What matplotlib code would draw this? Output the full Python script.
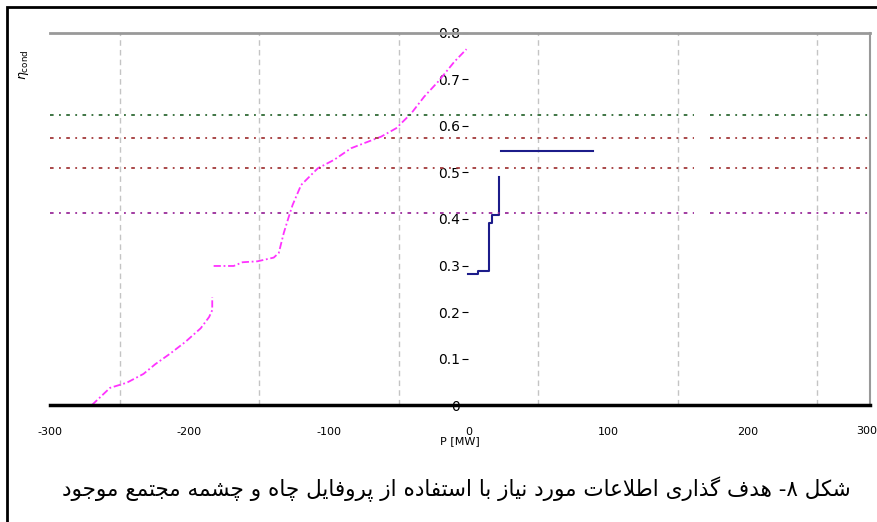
import numpy as np
import matplotlib.pyplot as plt
from matplotlib.patches import Rectangle

# composite curve (magenta), two pieces
hot_x1 = [-270, -257, -245, -233, -224.5, -213.7, -202.9, -192, -186, -183.7, -183.7]
hot_y1 = [0.0, 0.037, 0.048, 0.067, 0.088, 0.111, 0.136, 0.165, 0.189, 0.204, 0.232]
hot_x2 = [-182.7, -168.3, -162, -151.3, -139.6, -136, -132.4, -128.8, -126.1, -120,
          -108, -96.4, -84.2, -62.6, -51.8, -41, -31.7, -21.8, -10.1, -1.4]
hot_y2 = [0.299, 0.299, 0.307, 0.309, 0.317, 0.327, 0.370, 0.405, 0.430, 0.473,
          0.509, 0.527, 0.552, 0.577, 0.595, 0.627, 0.663, 0.695, 0.738, 0.765]

# step curve (navy)
cold_x1 = [0, 6.5, 6.5, 15, 15, 17, 17, 22, 22]
cold_y1 = [0.282, 0.282, 0.289, 0.289, 0.391, 0.391, 0.409, 0.409, 0.491]
cold_x2 = [23, 89]
cold_y2 = [0.547, 0.547]

# horizontal reference levels
ref_levels = [0.624, 0.574, 0.510, 0.413]
ref_colors = ['#2f6a35', '#a3393a', '#a3393a', '#9a2c9a']

xticks = [-300, -200, -100, 0, 100, 200, 300]
yticks = [0, 0.1, 0.2, 0.3, 0.4, 0.5, 0.6, 0.7, 0.8]
ytick_labels = ['0', '0.1', '0.2', '0.3', '0.4', '0.5', '0.6', '0.7', '0.8']
xgrid = [-250, -150, -50, 50, 150, 250]
ygrid = [0.2, 0.3, 0.4]

caption = 'شکل ۸- هدف گذاری اطلاعات مورد نیاز با استفاده از پروفایل چاه و چشمه مجتمع موجود'

# minimal arabic/persian shaping (isolated, final, initial, medial)
forms = {
    'ا': ('\uFE8D', '\uFE8E', None, None),
    'د': ('\uFEA9', '\uFEAA', None, None),
    'ذ': ('\uFEAB', '\uFEAC', None, None),
    'ر': ('\uFEAD', '\uFEAE', None, None),
    'ز': ('\uFEAF', '\uFEB0', None, None),
    'و': ('\uFEED', '\uFEEE', None, None),
    'ب': ('\uFE8F', '\uFE90', '\uFE91', '\uFE92'),
    'پ': ('\uFB56', '\uFB57', '\uFB58', '\uFB59'),
    'ت': ('\uFE95', '\uFE96', '\uFE97', '\uFE98'),
    'ج': ('\uFE9D', '\uFE9E', '\uFE9F', '\uFEA0'),
    'چ': ('\uFB7A', '\uFB7B', '\uFB7C', '\uFB7D'),
    'ح': ('\uFEA1', '\uFEA2', '\uFEA3', '\uFEA4'),
    'س': ('\uFEB1', '\uFEB2', '\uFEB3', '\uFEB4'),
    'ش': ('\uFEB5', '\uFEB6', '\uFEB7', '\uFEB8'),
    'ط': ('\uFEC1', '\uFEC2', '\uFEC3', '\uFEC4'),
    'ع': ('\uFEC9', '\uFECA', '\uFECB', '\uFECC'),
    'ف': ('\uFED1', '\uFED2', '\uFED3', '\uFED4'),
    'ک': ('\uFB8E', '\uFB8F', '\uFB90', '\uFB91'),
    'گ': ('\uFB92', '\uFB93', '\uFB94', '\uFB95'),
    'ل': ('\uFEDD', '\uFEDE', '\uFEDF', '\uFEE0'),
    'م': ('\uFEE1', '\uFEE2', '\uFEE3', '\uFEE4'),
    'ن': ('\uFEE5', '\uFEE6', '\uFEE7', '\uFEE8'),
    'ه': ('\uFEE9', '\uFEEA', '\uFEEB', '\uFEEC'),
    'ی': ('\uFBFC', '\uFBFD', '\uFBFE', '\uFBFF'),
}


def joins_next(c):
    return c in forms and forms[c][2] is not None


def shape(s):
    out = []
    i = 0
    while i < len(s):
        c = s[i]
        prev = s[i-1] if i > 0 else ''
        nxt = s[i+1] if i + 1 < len(s) else ''
        if c not in forms:
            out.append(c)
            i += 1
            continue
        jp = joins_next(prev)
        if c == 'ل' and nxt == 'ا':
            out.append('\uFEFC' if jp else '\uFEFB')
            i += 2
            continue
        jn = (nxt in forms) and joins_next(c)
        iso, fin, ini, med = forms[c]
        if jp and jn:
            out.append(med)
        elif jp:
            out.append(fin)
        elif jn:
            out.append(ini)
        else:
            out.append(iso)
        i += 1
    return ''.join(out[::-1])


fig = plt.figure(figsize=(8.78, 5.22), dpi=100)
ax = fig.add_axes([0.057, 0.224, 0.934, 0.713])

ax.plot(hot_x1, hot_y1, color='#ff33ff', lw=1.3, ls=(0, (4, 1.5, 1, 1.5)))
ax.plot(hot_x2, hot_y2, color='#ff33ff', lw=1.3, ls=(0, (4, 1.5, 1, 1.5)))
ax.plot(cold_x1, cold_y1, color='#1c1c8a', lw=1.5)
ax.plot(cold_x2, cold_y2, color='#1c1c8a', lw=1.5)

for lev, col in zip(ref_levels, ref_colors):
    ax.plot([-300, 162], [lev, lev], color=col, lw=1.3, ls=(0, (2, 3, 1, 3)))
    ax.plot([173, 300], [lev, lev], color=col, lw=1.3, ls=(0, (2, 3, 1, 3)))

ax.set_xlim(-299, 288)
ax.set_ylim(0, 0.8)
ax.set_xticks(xticks[:-1])
ax.set_xticklabels([str(v) for v in xticks[:-1]], fontsize=8)
# last label sits past the right edge of the plot, pushed against the image border
fig.text(877/878, 0.174, str(xticks[-1]), fontsize=8, ha='right', va='center')
ax.set_yticks(yticks)
ax.set_yticklabels(ytick_labels, fontsize=8)
ax.set_xticks(xgrid, minor=True)
ax.set_yticks(ygrid, minor=True)
ax.grid(which='minor', color='#c4c4c4', ls=(0, (4, 3)), lw=1)
ax.tick_params(axis='x', which='both', length=0, pad=16)
ax.tick_params(axis='y', which='major', length=4, direction='out', pad=2)
ax.tick_params(axis='y', which='minor', length=0)

ax.spines['left'].set_position(('data', 0))
ax.spines['left'].set_visible(False)
ax.spines['top'].set_color('#999999')
ax.spines['top'].set_linewidth(2)
ax.spines['right'].set_color('#999999')
ax.spines['right'].set_linewidth(1.5)
ax.spines['bottom'].set_color('black')
ax.spines['bottom'].set_linewidth(2.5)
ax.set_zorder(2)

ax.set_xlabel('P [MW]', fontsize=8, labelpad=-1)
fig.text(0.027, 0.875, r'$\eta_{\mathrm{cond}}$', rotation=90, fontsize=9,
         ha='center', va='center')

fig.text(0.52, 0.062, shape(caption), fontsize=15.5, ha='center', va='center',
         family=['DejaVu Sans'])

fig.patches.append(Rectangle((7/878, -0.05), 1.2, 1 - 7/522 + 0.05, transform=fig.transFigure,
                             fill=False, ec='black', lw=2))

fig.savefig('out.png', dpi=100)
